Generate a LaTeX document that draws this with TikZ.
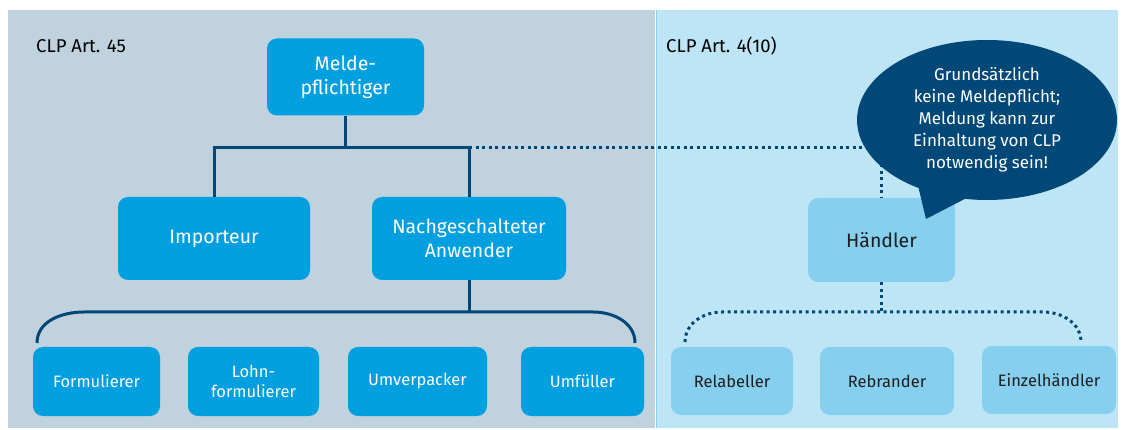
\documentclass[tikz,border=0pt]{standalone}
\usepackage{fontspec}
\setmainfont{Fira Sans}
\usetikzlibrary{shapes.callouts}
\definecolor{leftbg}{RGB}{191,210,222}
\definecolor{rightbg}{RGB}{190,229,246}
\definecolor{darkbox}{RGB}{0,159,224}
\definecolor{lightbox}{RGB}{134,207,239}
\definecolor{navy}{RGB}{0,72,120}
\definecolor{darktext}{RGB}{30,30,30}
\tikzset{
  box/.style={rounded corners=10pt, inner sep=0pt, align=center, text=white, fill=darkbox},
  bigbox/.style={box, font=\fontsize{19.5}{24}\selectfont},
  smallbox/.style={box, font=\fontsize{16.5}{20}\selectfont},
  lbox/.style={rounded corners=10pt, inner sep=0pt, align=center, text=darktext, fill=lightbox},
  solidline/.style={draw=navy, line width=3pt},
  dotline/.style={draw=navy, line width=3pt, dash pattern=on 3pt off 3.5pt},
  paneltitle/.style={anchor=west, inner sep=0pt, text=black, font=\fontsize{18.5}{20}\selectfont},
}
\begin{document}
\begin{tikzpicture}[x=1pt, y=-1pt]
\useasboundingbox (0,0) rectangle (1125,430);
\fill[white] (0,0) rectangle (1125,430);
% panels
\fill[leftbg] (8,10) rectangle (655,428);
\fill[rightbg] (656,10) rectangle (1118,428);
\draw[lightbox, line width=1pt] (656,10) -- (656,428);
\node[paneltitle] (t1) at (36,46) {CLP Art. 45};
\node[paneltitle] (t2) at (666,46) {CLP Art. 4(10)};
% nodes
\node[bigbox, minimum width=157pt, minimum height=77pt] (melde) at (345.5,77) {Melde-\\pflichtiger};
\node[bigbox, minimum width=192pt, minimum height=83pt] (importeur) at (214,238.5) {Importeur};
\node[bigbox, minimum width=194pt, minimum height=83pt] (nach) at (469,238.5) {Nachgeschalteter\\Anwender};
\node[lbox, font=\fontsize{19.5}{24}\selectfont, minimum width=147pt, minimum height=84pt] (haendler) at (881.5,240) {Händler};
\node[smallbox, minimum width=127pt, minimum height=69pt] (formulierer) at (96.5,381.5) {Formulierer};
\node[smallbox, minimum width=131pt, minimum height=69pt] (lohn) at (253.5,381.5) {Lohn-\\formulierer};
\node[smallbox, minimum width=139pt, minimum height=69pt] (umver) at (417.5,381.5) {Umverpacker};
\node[smallbox, minimum width=123pt, minimum height=69pt] (umf) at (582.5,381.5) {Umfüller};
\node[lbox, font=\fontsize{16.5}{20}\selectfont, minimum width=122pt, minimum height=68pt] (relab) at (732,381) {Relabeller};
\node[lbox, font=\fontsize{16.5}{20}\selectfont, minimum width=134pt, minimum height=68pt] (rebr) at (887,381) {Rebrander};
\node[lbox, font=\fontsize{16.5}{20}\selectfont, minimum width=134pt, minimum height=68pt] (einzel) at (1049,380) {Einzelhändler};
% solid tree
\coordinate (hl) at (214,148);
\coordinate (hr) at (469,148);
\coordinate (hm) at (345.5,148);
\draw[solidline] (melde.south) -- (hm);
\draw[solidline] (importeur.north) -- (hl) -- (hr) -- (nach.north);
\coordinate (bj) at (469,312);
\coordinate (bl) at (37,343);
\coordinate (br) at (635,343);
\draw[solidline] (nach.south) -- (bj);
\draw[solidline] (bl) to[out=90,in=180] (84,312) -- (593,312) to[out=0,in=90] (br);
% dotted tree
\coordinate (dr) at (881.5,148);
\draw[dotline] (hr) -- (dr) -- (haendler.north);
\coordinate (rj) at (881.5,312);
\coordinate (rl) at (685,342);
\coordinate (rr) at (1081,342);
\draw[dotline] (haendler.south) -- (rj);
\draw[dotline] (rl) to[out=90,in=180] (722,312) -- (1043,312) to[out=0,in=90] (rr);
% bubble
\node[ellipse callout, fill=navy, text=white, align=center, inner sep=0pt,
  minimum width=260pt, minimum height=160pt, callout absolute pointer={(926,219)},
  callout pointer arc=22, font=\fontsize{17}{22}\selectfont] (bubble) at (987,120)
  {Grundsätzlich\\keine Meldepflicht;\\Meldung kann zur\\Einhaltung von CLP\\notwendig sein!};
\end{tikzpicture}
\end{document}
